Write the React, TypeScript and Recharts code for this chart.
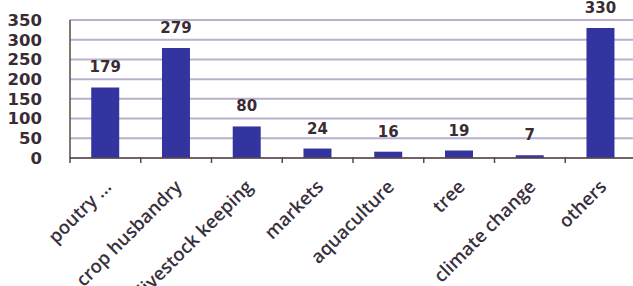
import { BarChart, Bar, XAxis, YAxis, CartesianGrid, LabelList } from "recharts"

const categories = ["poutry ...", "crop husbandry", "livestock keeping", "markets", "aquaculture", "tree", "climate change", "others"]
const counts = [179, 279, 80, 24, 16, 19, 7, 330]
const yTicks = [0, 50, 100, 150, 200, 250, 300, 350]

const data = categories.map((name, i) => ({ name, value: counts[i] }))

const BAND = 566 / categories.length

function CategoryTick(props: any) {
  const { x, y, payload } = props
  return (
    <g transform={`translate(${x},${y})`}>
      <line x1={-BAND / 2} y1={-9} x2={-BAND / 2} y2={-3} stroke="#5a4848" strokeWidth={1.5} />
      <text
        x={7}
        y={22}
        textAnchor="end"
        transform="rotate(-45, 7, 22)"
        fontFamily="'Open Sans', 'Liberation Sans', sans-serif"
        fontSize={18.5}
        fontWeight={600}
        fill="#38303c"
      >
        {payload.value}
      </text>
    </g>
  )
}

export default function App() {
  return (
    <div style={{ position: "absolute", left: 0, top: 0, width: 633, height: 286, overflow: "hidden", background: "#fff" }}>
      <BarChart
        width={636}
        height={286}
        data={data}
        margin={{ top: 20, right: 0, bottom: 0, left: 0 }}
        barCategoryGap="30%"
      >
        <CartesianGrid vertical={false} stroke="#b8b0cc" strokeWidth={2} />
        <XAxis
          dataKey="name"
          interval={0}
          height={128}
          tickLine={false}
          axisLine={{ stroke: "#5a4848", strokeWidth: 1.5 }}
          tick={<CategoryTick />}
        />
        <YAxis
          width={70}
          domain={[0, 350]}
          ticks={yTicks}
          interval={0}
          tickLine={false}
          axisLine={{ stroke: "#5a4848", strokeWidth: 1.5 }}
          tick={{ fill: "#3a2c34", fontSize: 16.5, fontWeight: "bold", fontFamily: "'DejaVu Sans', Verdana, sans-serif" }}
          tickMargin={22}
        />
        <Bar dataKey="value" fill="#3434a0" isAnimationActive={false}>
          <LabelList
            dataKey="value"
            position="top"
            offset={15}
            fill="#3a2c34"
            fontSize={15}
            fontWeight="bold"
            fontFamily="'DejaVu Sans', Verdana, sans-serif"
          />
        </Bar>
      </BarChart>
    </div>
  )
}
